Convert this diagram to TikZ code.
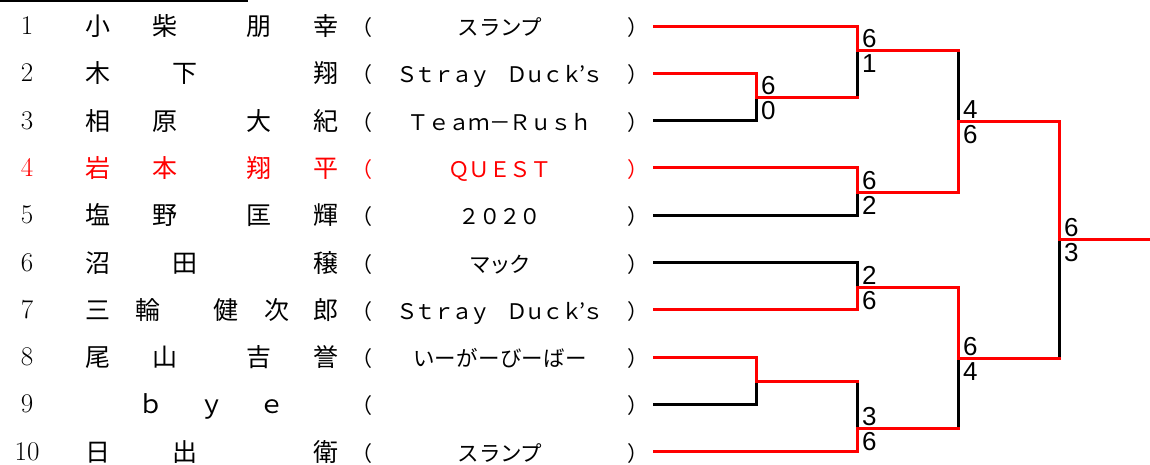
\documentclass[tikz,border=0pt]{standalone}
\usepackage{fontspec}
\newfontfamily\jp{Noto Sans CJK JP}
\newfontfamily\scorefont{Liberation Sans}
\tikzset{
  win/.style={draw=red, line width=3pt, line cap=rect},
  lose/.style={draw=black, line width=3pt, line cap=rect},
  seed/.style={anchor=base, inner sep=0pt, font=\fontsize{27}{27}\selectfont},
  kanji/.style={anchor=base, inner sep=0pt, font=\jp\fontsize{25}{25}\selectfont},
  team/.style={anchor=base, inner sep=0pt, font=\jp\fontsize{21.5}{22}\selectfont},
  paren/.style={anchor=base, inner sep=0pt, font=\jp\fontsize{21}{21}\selectfont},
  score/.style={inner sep=0pt, font=\scorefont\fontsize{26}{26}\selectfont},
}
\begin{document}
\begin{tikzpicture}[x=1pt, y=-1pt]
    \useasboundingbox (0,0) rectangle (1150,464);

    % rule over the list
    \draw[line width=1.8pt] (0,1) -- (248,1);

    % seeds, clubs and line ends
    \foreach \i/\t/\col/\ls in {1/スランプ/black/-2, 2/Ｓｔｒａｙ　Ｄｕｃｋ’ｓ/black/-15,
        3/Ｔｅａｍ－Ｒｕｓｈ/black/-5, 4/ＱＵＥＳＴ/red/-5, 5/２０２０/black/-6,
        6/マック/black/-6, 7/Ｓｔｒａｙ　Ｄｕｃｋ’ｓ/black/-15, 8/いーがーびーばー/black/1,
        9//black/0, 10/スランプ/black/-2} {
      \pgfmathsetmacro\yy{26+(\i-1)*47.3}
      \node[seed, \col] (no\i) at (27,\yy+8.5) {\i};
      \node[paren, \col] (lp\i) at (362,\yy+9.5) {（};
      \node[team, \col] (tm\i) at (500,\yy+9.5) {\addfontfeature{LetterSpace=\ls}\t};
      \node[paren, \col] (rp\i) at (638,\yy+9.5) {）};
      \coordinate (e\i) at (654,\yy);
    }

    % players
    \foreach \c/\x in {小/98,柴/165,朋/259,幸/326} \node[kanji] (na1-\x) at (\x,35.5) {\c};
    \foreach \c/\x in {木/98,下/185,翔/326} \node[kanji] (na2-\x) at (\x,82.8) {\c};
    \foreach \c/\x in {相/98,原/165,大/259,紀/326} \node[kanji] (na3-\x) at (\x,130.1) {\c};
    \foreach \c/\x in {岩/98,本/165,翔/259,平/326} \node[kanji, red] (na4-\x) at (\x,177.4) {\c};
    \foreach \c/\x in {塩/98,野/165,匡/259,輝/326} \node[kanji] (na5-\x) at (\x,224.7) {\c};
    \foreach \c/\x in {沼/98,田/185,穣/326} \node[kanji] (na6-\x) at (\x,272) {\c};
    \foreach \c/\x in {三/98,輪/148,健/226,次/277,郎/326} \node[kanji] (na7-\x) at (\x,319.3) {\c};
    \foreach \c/\x in {尾/98,山/165,吉/259,誉/326} \node[kanji] (na8-\x) at (\x,366.6) {\c};
    \foreach \c/\x in {ｂ/151,ｙ/212,ｅ/272} \node[kanji] (na9-\x) at (\x,413.9) {\c};
    \foreach \c/\x in {日/98,出/185,衛/326} \node[kanji] (na10-\x) at (\x,461) {\c};

    % junctions
    \coordinate (m23) at (756,97);
    \coordinate (m89) at (756,381);
    \coordinate (j1) at (857,50);
    \coordinate (j45) at (857,192);
    \coordinate (j67) at (857,287);
    \coordinate (j10) at (857,428);
    \coordinate (s1) at (958,121);
    \coordinate (s2) at (958,358);
    \coordinate (f) at (1059,239);
    \coordinate (out) at (1150,239);

    % losers first, winners on top
    \draw[lose] (e3) -| (m23);
    \draw[lose] (e9) -| (m89);
    \draw[lose] (m23 -| j1) -- (j1);
    \draw[lose] (e5) -| (j45);
    \draw[lose] (e6) -| (j67);
    \draw[lose] (m89 -| j10) -- (j10);
    \draw[lose] (j1 -| s1) -- (s1);
    \draw[lose] (j10 -| s2) -- (s2);
    \draw[lose] (s2 -| f) -- (f);

    \draw[win] (e2) -| (m23);
    \draw[win] (e8) -| (m89);
    \draw[win] (e1) -| (j1);
    \draw[win] (m23) -- (m23 -| j1);
    \draw[win] (e4) -| (j45);
    \draw[win] (e7) -| (j67);
    \draw[win] (m89) -- (m89 -| j10);
    \draw[win] (e10) -| (j10);
    \draw[win] (j1) -- (j1 -| s1);
    \draw[win] (j45) -| (s1);
    \draw[win] (j67) -| (s2);
    \draw[win] (j10) -- (j10 -| s2);
    \draw[win] (s1) -| (f);
    \draw[win] (s2) -- (s2 -| f);
    \draw[win] (f) -- (out);

    % scores (y axis points down, so yshift up is positive)
    \foreach \j/\a/\b in {m23/6/0, j1/6/1, j45/6/2, j67/2/6, j10/3/6, s1/4/6, s2/6/4, f/6/3} {
      \node[score, anchor=south west] (up-\j) at ([xshift=5pt, yshift=2pt]\j) {\a};
      \node[score, anchor=north west] (dn-\j) at ([xshift=5pt, yshift=-4pt]\j) {\b};
    }
\end{tikzpicture}
\end{document}
